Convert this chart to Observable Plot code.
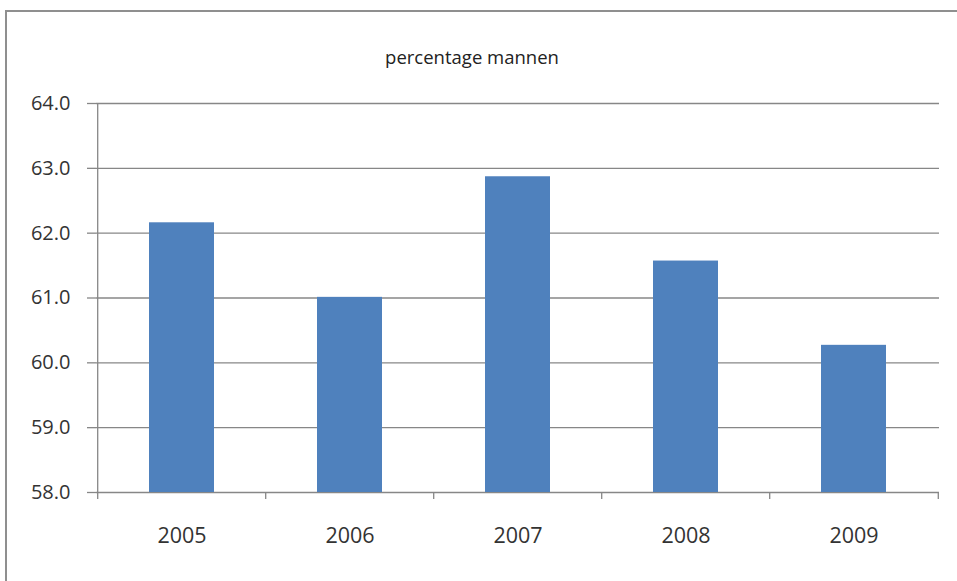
<!DOCTYPE html>
<html>
<head>
<meta charset="utf-8">
<script src="https://cdn.jsdelivr.net/npm/d3@7"></script>
<script src="https://cdn.jsdelivr.net/npm/@observablehq/plot@0.6"></script>
<style>
  html, body { margin: 0; padding: 0; background: #fff; overflow: hidden; }
  #wrap { position: relative; width: 957px; height: 581px; overflow: hidden; }
  #frame { position: absolute; left: 5px; top: 10px; width: 1000px; height: 1000px;
           border: 2px solid #8f8f8f; box-sizing: border-box; }
  #title { position: absolute; left: 0; width: 944px; top: 44px; text-align: center;
           font-family: "Open Sans", sans-serif; font-size: 18.5px; color: #222; }
  #chart { position: absolute; left: 0; top: 0; }
</style>
</head>
<body>
<div id="wrap">
  <div id="frame"></div>
  <div id="title">percentage mannen</div>
  <div id="chart"></div>
</div>
<script>
const years = ["2005", "2006", "2007", "2008", "2009"];
const values = [62.16, 61.01, 62.87, 61.57, 60.27];
const yTicks = [58, 59, 60, 61, 62, 63, 64];

const data = years.map((y, i) => ({year: y, value: values[i]}));

const W = 957, H = 581;
const mL = 96, mR = 18, mT = 103, mB = 89;
const step = (W - mL - mR) / years.length;
const lineColor = "#878787";

const chart = Plot.plot({
  width: W,
  height: H,
  marginLeft: mL,
  marginRight: mR,
  marginTop: mT,
  marginBottom: mB,
  style: {fontFamily: "Open Sans, sans-serif", fontSize: "20px", color: "#333", background: "transparent"},
  x: {domain: years, paddingInner: 0.615, paddingOuter: 0.3075, label: null},
  y: {domain: [58, 64], label: null},
  marks: [
    Plot.ruleY(yTicks, {stroke: lineColor, strokeWidth: 1.3}),
    Plot.barY(data, {x: "year", y1: 58, y2: "value", fill: "#4F81BD"}),
    Plot.ruleX([years[0]], {x: d => d, y1: 58, y2: 64, stroke: lineColor, strokeWidth: 1.3, dx: -step / 2}),
    Plot.ruleX(years, {x: d => d, y1: 58, y2: 58, stroke: lineColor, strokeWidth: 1.3, dx: -step / 2, insetBottom: -7}),
    Plot.ruleX([years[years.length - 1]], {x: d => d, y1: 58, y2: 58, stroke: lineColor, strokeWidth: 1.3, dx: step / 2, insetBottom: -7}),
    Plot.axisY({ticks: yTicks, tickFormat: d3.format(".1f"), tickSize: 9, tickPadding: 17, stroke: lineColor, strokeWidth: 1.3, label: null, fill: "#333", fontSize: 20}),
    Plot.axisX({tickSize: 0, tickPadding: 35, label: null, fill: "#333", fontSize: 21.5})
  ]
});
document.getElementById("chart").append(chart);
</script>
</body>
</html>
